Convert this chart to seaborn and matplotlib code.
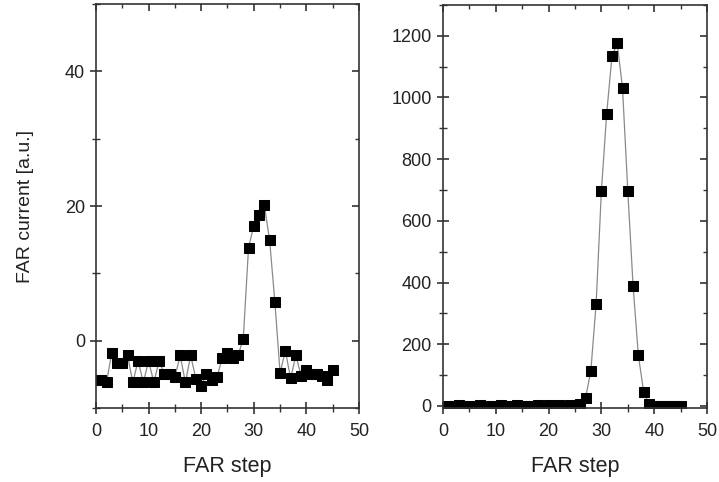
import numpy as np
import pandas as pd
import matplotlib
matplotlib.use("Agg")
import matplotlib.pyplot as plt
from matplotlib.ticker import MultipleLocator
import seaborn as sns

sns.set_style("ticks")
plt.rcParams["font.family"] = ["Liberation Sans", "DejaVu Sans"]

# FAR step index
steps = list(range(1, 46))

# Left panel: low-signal FAR current
current_low = [-5.8, -6.2, -1.8, -3.3, -3.3, -2.2, -6.2, -3.0, -6.2, -3.0,
               -6.2, -3.0, -5.0, -5.0, -5.4, -2.2, -6.2, -2.2, -5.7, -6.7,
               -5.0, -5.8, -5.4, -2.6, -1.8, -2.6, -2.2, 0.25, 13.8, 17.1,
               18.6, 20.1, 15.0, 5.8, -4.8, -1.5, -5.6, -2.2, -5.2, -4.4,
               -5.0, -5.0, -5.2, -5.8, -4.4]

# Right panel: high-signal FAR current
current_high = [1, 0, 2, 1, 0, 1, 2, 1, 0, 1,
                2, 1, 1, 2, 1, 0, 1, 2, 1, 2,
                1, 2, 1, 2, 3, 6, 25, 113, 330, 697,
                947, 1133, 1176, 1031, 697, 390, 164, 46, 5, 1,
                0, 1, 0, 1, 0]

df_low = pd.DataFrame({"step": steps, "current": current_low})
df_high = pd.DataFrame({"step": steps, "current": current_high})

fig = plt.figure(figsize=(7.19, 4.82), dpi=100)
ax1 = fig.add_axes([0.1335, 0.1535, 0.3658, 0.8382])
ax2 = fig.add_axes([0.6161, 0.1535, 0.3672, 0.8362])

line_kw = dict(color="#8a8a8a", linewidth=0.9, marker="s", markersize=6.5,
               markerfacecolor="black", markeredgecolor="black")

sns.lineplot(data=df_low, x="step", y="current", ax=ax1, **line_kw)
sns.lineplot(data=df_high, x="step", y="current", ax=ax2, **line_kw)

ax1.set_xlim(0, 50)
ax1.set_ylim(-10, 50)
ax1.yaxis.set_major_locator(MultipleLocator(20))
ax1.yaxis.set_minor_locator(MultipleLocator(10))

ax2.set_xlim(0, 50)
ax2.set_ylim(-7, 1300)
ax2.yaxis.set_major_locator(MultipleLocator(200))
ax2.yaxis.set_minor_locator(MultipleLocator(100))

for ax in (ax1, ax2):
    ax.xaxis.set_major_locator(MultipleLocator(10))
    ax.xaxis.set_minor_locator(MultipleLocator(5))
    for s in ax.spines.values():
        s.set_color("#333333")
        s.set_linewidth(1.2)
    ax.tick_params(which="both", top=True, right=True, color="#333333",
                   labelsize=13, labelcolor="#222222")
    ax.tick_params(axis="x", which="both", direction="inout", top=False, pad=6)
    ax.tick_params(axis="y", which="both", direction="inout", right=False)
    ax.tick_params(which="major", length=9, width=1.2)
    ax.tick_params(which="minor", length=6, width=1.0)
    # inward mirrored ticks on top and right
    sec_x = ax.secondary_xaxis("top")
    sec_x.xaxis.set_major_locator(MultipleLocator(10))
    sec_x.xaxis.set_minor_locator(MultipleLocator(5))
    sec_x.tick_params(which="both", direction="in", labeltop=False, color="#333333")
    sec_x.tick_params(which="major", length=5, width=1.2)
    sec_x.tick_params(which="minor", length=3, width=1.0)
    sec_x.spines["top"].set_visible(False)
    ax.set_xlabel("FAR step", fontsize=15.5, color="#222222", labelpad=12)

sec_y1 = ax1.secondary_yaxis("right")
sec_y1.yaxis.set_major_locator(MultipleLocator(20))
sec_y1.yaxis.set_minor_locator(MultipleLocator(10))
sec_y2 = ax2.secondary_yaxis("right")
sec_y2.yaxis.set_major_locator(MultipleLocator(200))
sec_y2.yaxis.set_minor_locator(MultipleLocator(100))
for sy in (sec_y1, sec_y2):
    sy.tick_params(which="both", direction="in", labelright=False, color="#333333")
    sy.tick_params(which="major", length=5, width=1.2)
    sy.tick_params(which="minor", length=3, width=1.0)
    sy.spines["right"].set_visible(False)

ax1.set_ylabel("FAR current [a.u.]", fontsize=14, color="#222222", labelpad=22)
ax2.set_ylabel("")

fig.savefig("out.png", dpi=100)
